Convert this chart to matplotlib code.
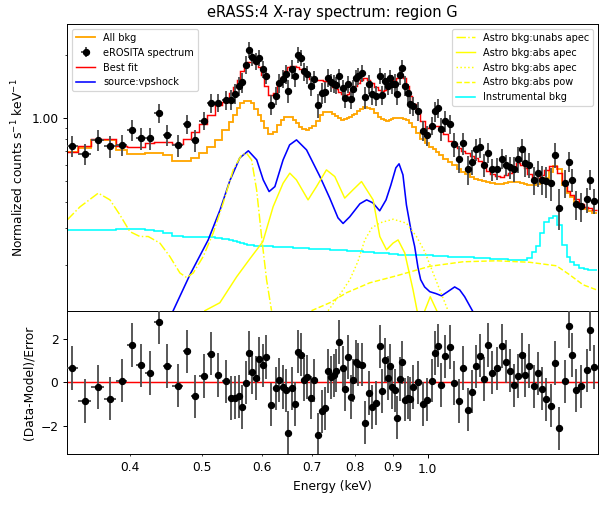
import numpy as np
import matplotlib
matplotlib.use("Agg")
import matplotlib.pyplot as plt
from matplotlib.ticker import FormatStrFormatter, NullFormatter

# Binned spectrum (bin centres in keV)
energy = [
    0.3348, 0.3481, 0.3625, 0.3765, 0.3907, 0.4020, 0.4133, 0.4249, 0.4372, 0.4484,
    0.4634, 0.4774, 0.4892, 0.5018, 0.5131, 0.5252, 0.5376, 0.5468, 0.5526, 0.5590,
    0.5649, 0.5716, 0.5770, 0.5831, 0.5893, 0.5956, 0.6019, 0.6083, 0.6174, 0.6267,
    0.6334, 0.6401, 0.6463, 0.6517, 0.6580, 0.6650, 0.6707, 0.6771, 0.6835, 0.6901,
    0.6975, 0.7041, 0.7131, 0.7223, 0.7292, 0.7370, 0.7424, 0.7488, 0.7552, 0.7624,
    0.7698, 0.7755, 0.7829, 0.7896, 0.7954, 0.8013, 0.8074, 0.8160, 0.8255, 0.8352,
    0.8424, 0.8522, 0.8631, 0.8703, 0.8777, 0.8842, 0.8910, 0.8966, 0.9043, 0.9110,
    0.9177, 0.9246, 0.9315, 0.9404, 0.9484, 0.9575, 0.9708, 0.9853, 0.9989, 1.0128,
    1.0235, 1.0311, 1.0421, 1.0566, 1.0713, 1.0861, 1.1011, 1.1152, 1.1318, 1.1452,
    1.1598, 1.1746, 1.1896, 1.2050, 1.2204, 1.2400, 1.2584, 1.2733, 1.2882, 1.3060,
    1.3199, 1.3382, 1.3512, 1.3669, 1.3888, 1.4052, 1.4231, 1.4413, 1.4630, 1.4800,
    1.5006, 1.5246, 1.5439, 1.5603, 1.5801, 1.6058, 1.6316, 1.6505, 1.6716,
]

flux = [
    0.738, 0.676, 0.788, 0.733, 0.744, 0.880, 0.803, 0.803, 1.063, 0.833,
    0.741, 0.936, 0.788, 0.974, 1.179, 1.187, 1.222, 1.225, 1.31, 1.42,
    1.48, 1.80, 2.11, 1.95, 1.87, 1.94, 1.72, 1.59, 1.16, 1.28,
    1.47, 1.54, 1.62, 1.35, 1.72, 1.59, 2.00, 1.94, 1.67, 1.62,
    1.43, 1.53, 1.15, 1.32, 1.33, 1.56, 1.48, 1.46, 1.44, 1.58,
    1.39, 1.25, 1.45, 1.24, 1.38, 1.55, 1.59, 1.64, 1.26, 1.45,
    1.30, 1.28, 1.59, 1.29, 1.50, 1.43, 1.55, 1.45, 1.46, 1.31,
    1.60, 1.73, 1.43, 1.32, 1.17, 1.14, 1.08, 0.87, 0.83, 0.92,
    1.08, 1.12, 0.89, 0.97, 0.94, 0.75, 0.64, 0.76, 0.57, 0.62,
    0.71, 0.725, 0.60, 0.685, 0.57, 0.575, 0.64, 0.60, 0.585, 0.575,
    0.64, 0.71, 0.61, 0.60, 0.51, 0.55, 0.51, 0.50, 0.49, 0.67,
    0.375, 0.49, 0.62, 0.51, 0.39, 0.38, 0.41, 0.51, 0.405,
]

flux_err = [
    0.085, 0.080, 0.090, 0.085, 0.085, 0.100, 0.095, 0.095, 0.110, 0.095,
    0.090, 0.100, 0.095, 0.100, 0.120, 0.120, 0.125, 0.130, 0.140, 0.150,
    0.165, 0.180, 0.185, 0.185, 0.180, 0.175, 0.160, 0.140, 0.130, 0.130,
    0.145, 0.155, 0.170, 0.175, 0.175, 0.175, 0.175, 0.170, 0.165, 0.160,
    0.155, 0.150, 0.150, 0.150, 0.150, 0.150, 0.145, 0.140, 0.135, 0.135,
    0.130, 0.130, 0.130, 0.130, 0.135, 0.140, 0.145, 0.150, 0.155, 0.150,
    0.145, 0.140, 0.135, 0.135, 0.140, 0.140, 0.145, 0.150, 0.155, 0.160,
    0.160, 0.155, 0.150, 0.140, 0.125, 0.115, 0.110, 0.095, 0.090, 0.090,
    0.120, 0.120, 0.115, 0.110, 0.100, 0.100, 0.095, 0.090, 0.090, 0.085,
    0.085, 0.080, 0.077, 0.073, 0.070, 0.070, 0.070, 0.070, 0.071, 0.076,
    0.090, 0.090, 0.087, 0.081, 0.078, 0.078, 0.080, 0.085, 0.088, 0.088,
    0.083, 0.074, 0.068, 0.065, 0.062, 0.059, 0.057, 0.056, 0.055,
]

best_fit = [
    0.69, 0.74, 0.80, 0.80, 0.74, 0.73, 0.73, 0.76, 0.77, 0.77,
    0.75, 0.80, 0.86, 0.94, 1.03, 1.15, 1.20, 1.32, 1.41, 1.52,
    1.67, 1.80, 1.86, 1.86, 1.83, 1.75, 1.60, 1.42, 1.29, 1.32,
    1.45, 1.57, 1.68, 1.76, 1.77, 1.77, 1.75, 1.72, 1.65, 1.58,
    1.54, 1.52, 1.52, 1.52, 1.51, 1.48, 1.45, 1.41, 1.37, 1.33,
    1.30, 1.29, 1.30, 1.33, 1.37, 1.42, 1.47, 1.52, 1.55, 1.52,
    1.47, 1.41, 1.36, 1.34, 1.36, 1.40, 1.44, 1.48, 1.52, 1.56,
    1.58, 1.58, 1.55, 1.42, 1.27, 1.17, 1.08, 0.97, 0.90, 0.91,
    0.92, 0.92, 0.90, 0.84, 0.78, 0.75, 0.72, 0.70, 0.68, 0.66,
    0.645, 0.625, 0.59, 0.56, 0.54, 0.53, 0.527, 0.535, 0.547, 0.585,
    0.61, 0.60, 0.58, 0.54, 0.52, 0.52, 0.535, 0.565, 0.59, 0.59,
    0.55, 0.49, 0.45, 0.43, 0.41, 0.39, 0.377, 0.372, 0.366,
]

all_bkg = [
    0.69, 0.72, 0.788, 0.785, 0.706, 0.676, 0.676, 0.686, 0.686, 0.669,
    0.622, 0.622, 0.645, 0.681, 0.732, 0.788, 0.880, 0.963, 1.037, 1.116,
    1.179, 1.213, 1.213, 1.18, 1.11, 1.04, 0.97, 0.90, 0.84, 0.86,
    0.93, 0.98, 1.01, 1.01, 1.01, 0.98, 0.95, 0.91, 0.89, 0.88,
    0.90, 0.92, 0.97, 1.04, 1.075, 1.075, 1.07, 1.05, 1.02, 1.00,
    0.985, 0.99, 1.00, 1.01, 1.03, 1.05, 1.08, 1.11, 1.13, 1.12,
    1.10, 1.06, 1.01, 0.99, 0.98, 0.97, 0.975, 0.99, 1.00, 1.00,
    1.00, 1.00, 0.99, 0.98, 0.95, 0.91, 0.85, 0.80, 0.76, 0.73,
    0.71, 0.69, 0.67, 0.64, 0.615, 0.595, 0.575, 0.557, 0.54, 0.525,
    0.515, 0.51, 0.50, 0.494, 0.49, 0.487, 0.488, 0.49, 0.494, 0.495,
    0.495, 0.49, 0.485, 0.48, 0.48, 0.485, 0.50, 0.52, 0.555, 0.59,
    0.57, 0.48, 0.44, 0.42, 0.40, 0.385, 0.37, 0.36, 0.355,
]

instr_bkg = [
    0.294, 0.293, 0.293, 0.292, 0.295, 0.297, 0.297, 0.294, 0.289, 0.283,
    0.276, 0.273, 0.273, 0.273, 0.273, 0.270, 0.266, 0.262, 0.259, 0.257,
    0.255, 0.251, 0.249, 0.248, 0.247, 0.246, 0.246, 0.245, 0.245, 0.244,
    0.244, 0.243, 0.243, 0.242, 0.242, 0.241, 0.241, 0.240, 0.240, 0.240,
    0.239, 0.239, 0.238, 0.238, 0.237, 0.237, 0.236, 0.236, 0.236, 0.235,
    0.235, 0.235, 0.234, 0.234, 0.234, 0.233, 0.233, 0.232, 0.231, 0.230,
    0.230, 0.229, 0.228, 0.228, 0.227, 0.227, 0.226, 0.226, 0.225, 0.225,
    0.224, 0.224, 0.224, 0.223, 0.223, 0.223, 0.223, 0.222, 0.222, 0.222,
    0.221, 0.221, 0.220, 0.220, 0.219, 0.219, 0.218, 0.218, 0.217, 0.217,
    0.216, 0.216, 0.215, 0.215, 0.214, 0.214, 0.213, 0.213, 0.212, 0.212,
    0.212, 0.211, 0.212, 0.216, 0.231, 0.246, 0.284, 0.321, 0.335, 0.342,
    0.310, 0.250, 0.218, 0.207, 0.200, 0.194, 0.191, 0.190, 0.190,
]

resid = [
    0.66, -0.85, -0.22, -0.75, 0.08, 1.71, 0.78, 0.43, 2.78, 0.75,
    -0.15, 1.43, -0.65, 0.29, 1.32, 0.34, 0.05, -0.72, -0.71, -0.65,
    -1.14, -0.02, 1.35, 0.46, 0.20, 1.08, 0.78, 1.17, -1.03, -0.28,
    0.11, -0.22, -0.37, -2.34, -0.28, -1.00, 1.42, 1.28, 0.12, 0.25,
    -0.71, 0.09, -2.42, -1.34, -1.20, 0.52, 0.23, 0.32, 0.54, 1.86,
    0.66, -0.31, 1.17, -0.68, 0.09, 0.95, 0.83, 0.82, -1.85, -0.49,
    -1.14, -0.95, 1.66, -0.40, 1.02, 0.20, 0.77, -0.22, -0.37, -1.63,
    0.15, 0.92, -0.80, -0.71, -0.77, -0.22, 0.00, -1.00, -0.80, 0.08,
    1.35, 1.69, -0.12, 1.20, 1.62, -0.03, -0.85, 0.66, -1.26, -0.43,
    0.74, 1.23, 0.15, 1.72, 0.45, 0.65, 1.68, 0.95, 0.54, -0.14,
    0.29, 1.26, 0.34, 0.75, -0.18, 0.42, -0.29, -0.78, -1.08, 0.89,
    -2.12, 0.05, 2.58, 1.26, -0.37, -0.18, 0.55, 2.43, 0.71,
]

# Model components evaluated on a fine grid (keV, counts/s/keV)
vpshock_e = [0.457, 0.481, 0.509, 0.528, 0.544, 0.561, 0.576, 0.591, 0.603, 0.614,
             0.625, 0.641, 0.654, 0.668, 0.689, 0.718, 0.740, 0.759, 0.771, 0.787,
             0.812, 0.829, 0.845, 0.863, 0.880, 0.893, 0.907, 0.916, 0.927, 0.937,
             0.950, 0.961, 0.971, 0.979, 0.991, 1.007, 1.026, 1.044, 1.064, 1.087,
             1.104, 1.121, 1.148]
vpshock_v = [0.121, 0.179, 0.263, 0.366, 0.503, 0.647, 0.699, 0.633, 0.508, 0.447,
             0.472, 0.633, 0.746, 0.788, 0.706, 0.527, 0.416, 0.335, 0.315, 0.339,
             0.391, 0.408, 0.395, 0.362, 0.408, 0.479, 0.580, 0.606, 0.537, 0.386,
             0.294, 0.245, 0.194, 0.170, 0.157, 0.149, 0.146, 0.1425, 0.149, 0.157,
             0.152, 0.141, 0.121]

unabs_apec_e = [0.3299, 0.3430, 0.3629, 0.3762, 0.3879, 0.4000, 0.4125, 0.4232, 0.4387,
                0.4524, 0.4666, 0.4763, 0.4861, 0.5012, 0.5168, 0.5330, 0.5497, 0.5641,
                0.5728, 0.5817, 0.5908, 0.5999, 0.6092, 0.6186]
unabs_apec_v = [0.328, 0.378, 0.4395, 0.408, 0.346, 0.288, 0.273, 0.273, 0.254,
                0.219, 0.183, 0.174, 0.183, 0.219, 0.283, 0.394, 0.567, 0.669,
                0.681, 0.633, 0.456, 0.273, 0.170, 0.121]

abs_apec_e = [0.5038, 0.5276, 0.5556, 0.5788, 0.6023, 0.6217, 0.6410, 0.6544, 0.6679,
              0.6922, 0.7104, 0.7325, 0.7516, 0.7749, 0.7951, 0.8160, 0.8457, 0.8633,
              0.8813, 0.8993, 0.9133, 0.9322, 0.9563, 0.9683, 0.9793, 0.9914, 1.0083,
              1.0287, 1.0414]
abs_apec_v = [0.121, 0.132, 0.1755, 0.214, 0.258, 0.379, 0.490, 0.547, 0.508,
              0.408, 0.472, 0.567, 0.527, 0.416, 0.456, 0.499, 0.408, 0.273,
              0.236, 0.254, 0.263, 0.228, 0.152, 0.121, 0.105, 0.121, 0.141,
              0.121, 0.105]

abs_apec2_e = [0.7363, 0.7630, 0.7872, 0.8068, 0.8243, 0.8424, 0.8633, 0.8993, 0.9371,
               0.9665, 0.9914, 1.0130, 1.0383, 1.0651]
abs_apec2_v = [0.121, 0.144, 0.170, 0.207, 0.263, 0.300, 0.317, 0.330, 0.316,
               0.273, 0.231, 0.190, 0.152, 0.121]

abs_pow_e = [0.6995, 0.7401, 0.7792, 0.8371, 0.9088, 1.0068, 1.1153, 1.2360, 1.3692,
             1.4869, 1.5488, 1.6136, 1.6816]
abs_pow_v = [0.121, 0.132, 0.1473, 0.1643, 0.1774, 0.1969, 0.2069, 0.2092, 0.2058,
             0.1980, 0.1794, 0.1608, 0.1522]

# bin edges from the centres (midpoints in log space)
logc = np.log10(energy)
mid = 0.5 * (logc[1:] + logc[:-1])
log_edges = np.concatenate([[2 * logc[0] - mid[0]], mid, [2 * logc[-1] - mid[-1]]])
edges = 10 ** log_edges
e = np.array(energy)
xerr = [e - edges[:-1], edges[1:] - e]

fig = plt.figure(figsize=(600 / 88, 506 / 88), dpi=88)
ax = fig.add_axes([0.1117, 0.3860, 0.885, 0.5666])
axr = fig.add_axes([0.1117, 0.1028, 0.885, 0.2832], sharex=ax)

h_bkg = ax.stairs(all_bkg, edges, baseline=None, color="orange", lw=1.5, label="All bkg")
h_fit = ax.stairs(best_fit, edges, baseline=None, color="red", lw=1.2, label="Best fit")
h_src, = ax.plot(vpshock_e, vpshock_v, color="blue", lw=1.3, label="source:vpshock")
h_c1, = ax.plot(unabs_apec_e, unabs_apec_v, color="yellow", ls="-.", lw=1.2,
                label="Astro bkg:unabs apec")
h_c2, = ax.plot(abs_apec_e, abs_apec_v, color="yellow", ls="-", lw=1.2,
                label="Astro bkg:abs apec")
h_c3, = ax.plot(abs_apec2_e, abs_apec2_v, color="yellow", ls=":", lw=1.2,
                label="Astro bkg:abs apec")
h_c4, = ax.plot(abs_pow_e, abs_pow_v, color="yellow", ls="--", lw=1.2,
                label="Astro bkg:abs pow")
h_ins = ax.stairs(instr_bkg, edges, baseline=None, color="cyan", lw=1.3,
                  label="Instrumental bkg")
h_data = ax.errorbar(energy, flux, xerr=xerr, yerr=flux_err, fmt="o", color="k",
                     ms=5, ecolor="0.3", elinewidth=1.5, capsize=0, zorder=5,
                     label="eROSITA spectrum")

ax.set_xscale("log")
ax.set_yscale("log")
ax.set_xlim(0.3296, 1.69)
ax.set_ylim(0.121, 2.81)
ax.set_yticks([1.0])
ax.set_yticks([0.2, 0.3, 0.4, 0.5, 0.6, 0.7, 0.8, 0.9, 2.0], minor=True)
ax.yaxis.set_major_formatter(FormatStrFormatter("%.2f"))
ax.yaxis.set_minor_formatter(NullFormatter())
ax.set_ylabel(r"Normalized counts s$^{-1}$ keV$^{-1}$")
ax.set_title("eRASS:4 X-ray spectrum: region G")

leg1 = ax.legend(handles=[h_bkg, h_data, h_fit, h_src], loc="upper left", fontsize=8)
ax.add_artist(leg1)
ax.legend(handles=[h_c1, h_c2, h_c3, h_c4, h_ins], loc="upper right", fontsize=8)

# residual panel
axr.errorbar(energy, resid, xerr=xerr, yerr=1.0, fmt="o", color="k", ms=5,
             ecolor="0.3", elinewidth=1.5, capsize=0, zorder=5)
axr.axhline(0, color="red", lw=1.2)
axr.set_ylim(-3.3, 3.3)
axr.set_yticks([-2, 0, 2])
axr.set_xticks([1.0])
axr.set_xticks([0.4, 0.5, 0.6, 0.7, 0.8, 0.9], minor=True)
axr.xaxis.set_major_formatter(FormatStrFormatter("%.1f"))
axr.xaxis.set_minor_formatter(FormatStrFormatter("%.1f"))
ax.tick_params(axis="x", which="both", labelbottom=False)
axr.set_xlabel("Energy (keV)")
axr.set_ylabel("(Data-Model)/Error")

fig.savefig("out.png", dpi=88)
